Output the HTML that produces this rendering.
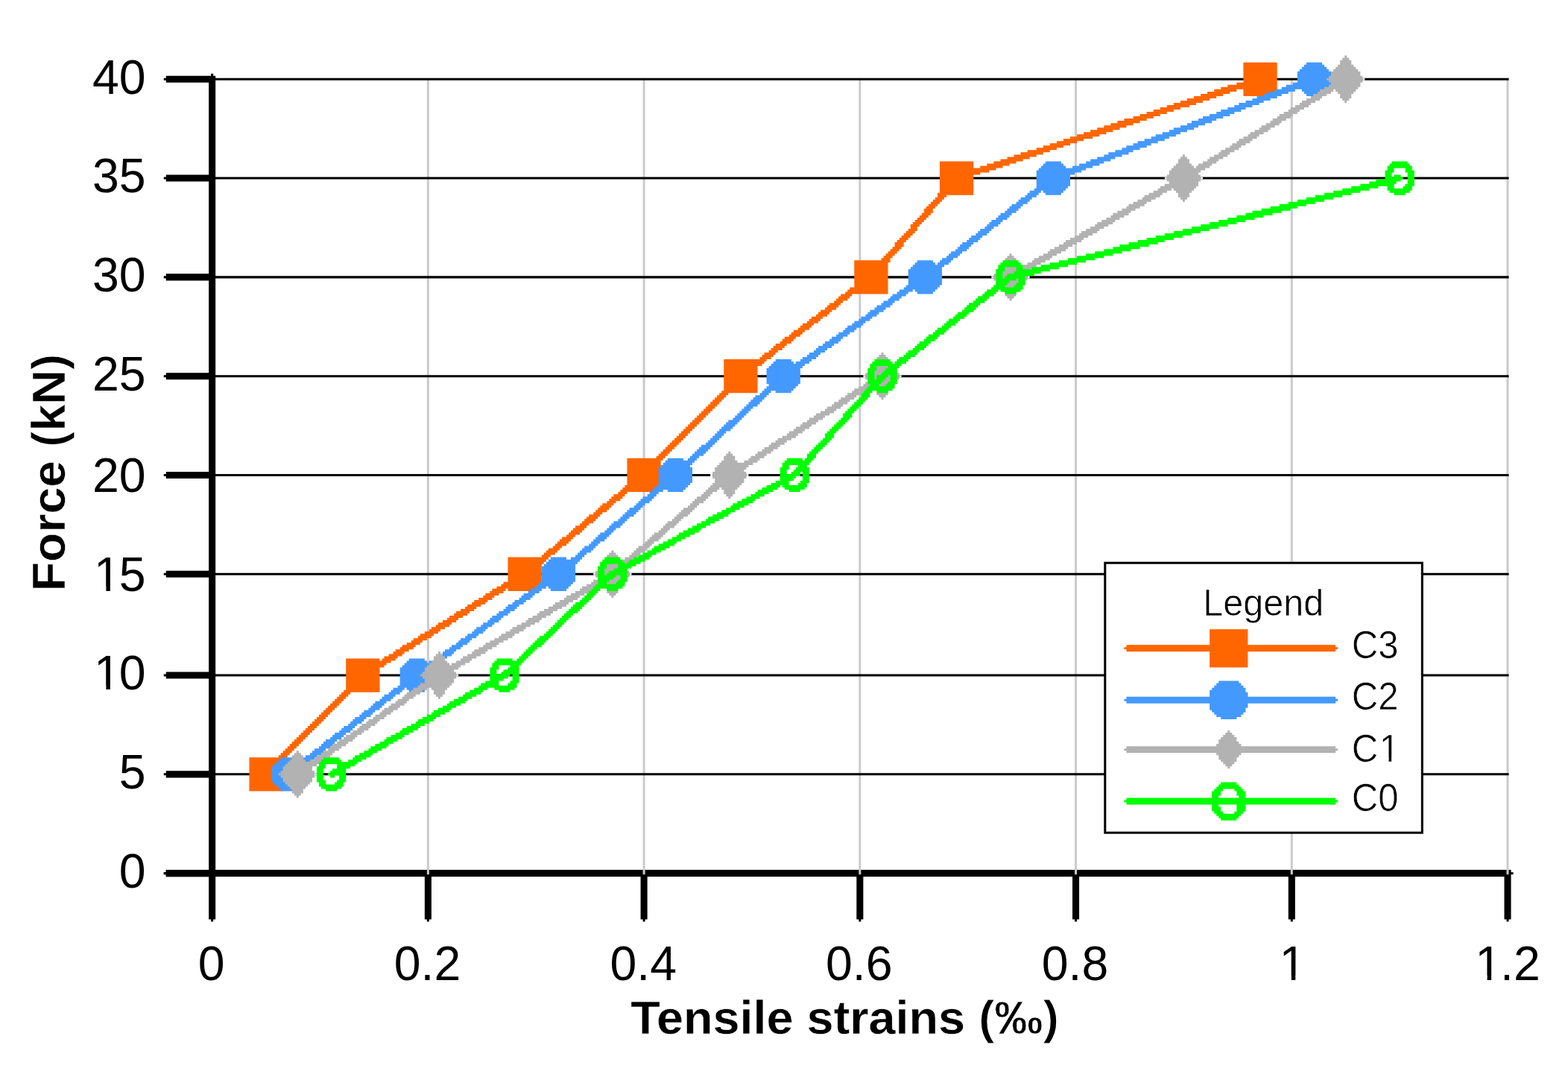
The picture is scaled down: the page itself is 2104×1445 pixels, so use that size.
<!DOCTYPE html>
<html lang="en"><head><meta charset="utf-8"><title>Force vs tensile strains</title>
<style>
html,body{margin:0;padding:0;background:#fff}
body{width:2104px;height:1445px;overflow:hidden}
svg{display:block}
text{font-family:"Liberation Sans",Arial,Helvetica,sans-serif;fill:#000}
</style></head><body>
<svg role="img" aria-label="Force (kN) versus tensile strains for beams C0 to C3" width="2104" height="1445" viewBox="0 0 2104 1445">
<rect width="2104" height="1445" fill="#fff"/>
<g transform="matrix(3.018 0 0 3.018 -0.55 -0.85)">
<g id="axes-and-grid">
<path class="x-axis" fill="#000" d="M74 387h598v1h-598zm-1 1h600v1h-600zm1 1h598v1h-598zm115 1h3v19h-3zm96 0h3v19h-3zm96 0h3v19h-3zm96 0h3v19h-3zm96 0h3v19h-3zm96 0h3v19h-3zm-479 19h1v1h-1zm96 0h1v1h-1zm96 0h1v1h-1zm96 0h1v1h-1zm96 0h1v1h-1zm96 0h1v1h-1z"/>
<path class="grid-vertical" fill="#cbcbcb" d="M190 35h1v354h-1zm96 0h1v354h-1zm96 0h1v354h-1zm96 0h1v354h-1zm96 0h1v354h-1zm96 0h1v354h-1z"/>
<path class="y-axis grid-horizontal" fill="#000" d="M94 33h1v1h-1zm-20 1h22v1h-22zm-1 1h598v1h-598zm1 1h22v1h-22zm19 1h3v41h-3zm-19 41h22v1h-22zm-1 1h598v1h-598zm1 1h22v1h-22zm19 1h3v41h-3zm-19 41h22v1h-22zm-1 1h598v1h-598zm1 1h22v1h-22zm19 1h3v41h-3zm-19 41h22v1h-22zm-1 1h598v1h-598zm1 1h22v1h-22zm19 1h3v41h-3zm-19 41h22v1h-22zm-1 1h598v1h-598zm1 1h22v1h-22zm19 1h3v41h-3zm-19 41h22v1h-22zm-1 1h598v1h-598zm1 1h22v1h-22zm19 1h3v42h-3zm-19 42h22v1h-22zm-1 1h598v1h-598zm1 1h22v1h-22zm19 1h3v41h-3zm-19 41h22v1h-22zm-1 1h598v1h-598zm1 1h22v1h-22zm19 1h3v41h-3zm-19 41h22v1h-22zm-1 1h23v1h-23zm1 1h22v1h-22zm19 1h3v19h-3zm1 19h1v1h-1z"/>
</g>
<g id="series-c3">
<path fill="#ff6600" d="M553 28h15v9h-15zm-3 9h18v1h-18zm-4 1h22v1h-22zm-3 1h25v1h-25zm-3 1h10v1h-10zm13 0h15v3h-15zm-16 1h10v1h-10zm-3 1h10v1h-10zm-3 1h10v1h-10zm-3 1h10v1h-10zm-3 1h10v1h-10zm-3 1h10v1h-10zm-3 1h10v1h-10zm-3 1h9v1h-9zm-3 1h9v1h-9zm-3 1h9v1h-9zm-3 1h9v1h-9zm-3 1h9v1h-9zm-4 1h10v1h-10zm-3 1h10v1h-10zm-3 1h10v1h-10zm-3 1h10v1h-10zm-3 1h10v1h-10zm-3 1h10v1h-10zm-3 1h10v1h-10zm-3 1h10v1h-10zm-3 1h10v1h-10zm-3 1h9v1h-9zm-3 1h9v1h-9zm-3 1h9v1h-9zm-3 1h9v1h-9zm-3 1h9v1h-9zm-4 1h10v1h-10zm-3 1h10v1h-10zm-3 1h10v1h-10zm-3 1h10v1h-10zm-3 1h10v1h-10zm-27 1h15v3h-15zm24 0h10v1h-10zm-3 1h10v1h-10zm-3 1h10v1h-10zm-18 1h25v1h-25zm0 1h22v1h-22zm0 1h18v1h-18zm0 1h15v8h-15zm-1 8h16v1h-16zm0 1h4v1h-4zm-1 1h4v1h-4zm-1 1h4v1h-4zm-1 1h4v1h-4zm-1 1h4v1h-4zm-1 1h4v1h-4zm-1 1h4v2h-4zm-1 2h4v1h-4zm-1 1h4v1h-4zm-1 1h4v1h-4zm-1 1h4v1h-4zm-1 1h4v1h-4zm-1 1h4v1h-4zm0 1h3v1h-3zm-1 1h4v1h-4zm-1 1h4v1h-4zm-1 1h4v1h-4zm-1 1h4v1h-4zm-1 1h4v1h-4zm-1 1h4v1h-4zm-1 1h4v2h-4zm-1 2h4v1h-4zm-1 1h4v1h-4zm-1 1h4v1h-4zm-1 1h4v1h-4zm-1 1h4v1h-4zm-1 1h4v1h-4zm-12 1h16v1h-16zm0 1h15v11h-15zm-2 11h17v1h-17zm-1 1h18v1h-18zm-1 1h19v1h-19zm-2 1h5v1h-5zm-1 1h5v1h-5zm-1 1h5v1h-5zm-1 1h4v1h-4zm-2 1h5v1h-5zm-1 1h5v1h-5zm-1 1h5v1h-5zm-2 1h5v1h-5zm-1 1h5v1h-5zm-1 1h5v1h-5zm-2 1h5v1h-5zm-1 1h5v1h-5zm-1 1h5v1h-5zm-2 1h5v1h-5zm-1 1h5v1h-5zm-1 1h5v1h-5zm-2 1h5v1h-5zm-1 1h5v1h-5zm-1 1h5v1h-5zm-2 1h5v1h-5zm-1 1h5v1h-5zm-1 1h5v1h-5zm-2 1h5v1h-5zm-1 1h5v1h-5zm-1 1h5v1h-5zm-1 1h4v1h-4zm-2 1h5v1h-5zm-1 1h5v1h-5zm-1 1h5v1h-5zm-16 1h19v1h-19zm0 1h18v1h-18zm0 1h17v1h-17zm0 1h15v11h-15zm-1 11h16v1h-16zm-1 1h4v1h-4zm-1 1h4v1h-4zm-1 1h4v1h-4zm-1 1h4v1h-4zm-1 1h4v1h-4zm-1 1h4v1h-4zm-1 1h4v1h-4zm-1 1h4v1h-4zm-1 1h4v1h-4zm-1 1h4v1h-4zm-1 1h4v1h-4zm-1 1h4v1h-4zm-1 1h4v1h-4zm-1 1h4v1h-4zm-1 1h4v1h-4zm-1 1h4v1h-4zm-1 1h4v1h-4zm-1 1h4v1h-4zm-1 1h4v1h-4zm-1 1h4v1h-4zm-1 1h4v1h-4zm-1 1h4v1h-4zm-1 1h4v1h-4zm-1 1h4v1h-4zm-1 1h4v1h-4zm-1 1h4v1h-4zm-1 1h4v1h-4zm-1 1h4v1h-4zm-1 1h4v1h-4zm-13 1h16v1h-16zm0 1h15v11h-15zm-1 11h16v1h-16zm-1 1h17v1h-17zm-1 1h18v1h-18zm-1 1h4v1h-4zm-2 1h5v1h-5zm-1 1h5v1h-5zm-1 1h5v1h-5zm-1 1h4v1h-4zm-2 1h5v1h-5zm-1 1h5v1h-5zm-1 1h5v1h-5zm-1 1h5v1h-5zm-1 1h4v1h-4zm-2 1h5v1h-5zm-1 1h5v1h-5zm-1 1h5v1h-5zm-1 1h5v1h-5zm-1 1h4v1h-4zm-2 1h5v1h-5zm-1 1h5v1h-5zm-1 1h5v1h-5zm-1 1h5v1h-5zm-1 1h4v1h-4zm-2 1h5v1h-5zm-1 1h5v1h-5zm-1 1h5v1h-5zm-1 1h5v1h-5zm-1 1h4v1h-4zm-2 1h5v1h-5zm-1 1h5v1h-5zm-1 1h5v1h-5zm-1 1h4v1h-4zm-15 1h18v1h-18zm0 1h17v1h-17zm0 1h16v1h-16zm0 1h15v8h-15zm-2 8h17v1h-17zm-1 1h18v1h-18zm-2 1h20v1h-20zm-2 1h6v1h-6zm7 0h15v1h-15zm-8 1h6v1h-6zm-2 1h6v1h-6zm-1 1h5v1h-5zm-2 1h6v1h-6zm-2 1h6v1h-6zm-1 1h6v1h-6zm-2 1h6v1h-6zm-1 1h5v1h-5zm-2 1h6v1h-6zm-2 1h6v1h-6zm-1 1h6v1h-6zm-2 1h6v1h-6zm-1 1h5v1h-5zm-2 1h6v1h-6zm-2 1h6v1h-6zm-1 1h6v1h-6zm-2 1h6v1h-6zm-1 1h5v1h-5zm-2 1h6v1h-6zm-2 1h6v1h-6zm-1 1h6v1h-6zm-2 1h6v1h-6zm-1 1h5v1h-5zm-2 1h6v1h-6zm-2 1h6v1h-6zm-1 1h6v1h-6zm-2 1h6v1h-6zm-1 1h5v1h-5zm-2 1h6v1h-6zm-2 1h6v1h-6zm-17 1h15v1h-15zm16 0h6v1h-6zm-16 1h20v1h-20zm0 1h18v1h-18zm0 1h17v1h-17zm0 1h15v10h-15zm-1 10h16v1h-16zm-1 1h4v1h-4zm-1 1h4v1h-4zm-1 1h4v1h-4zm-1 1h4v1h-4zm-1 1h4v1h-4zm-1 1h4v1h-4zm-1 1h4v1h-4zm-1 1h4v1h-4zm-1 1h4v1h-4zm-1 1h4v1h-4zm-1 1h4v1h-4zm-1 1h4v1h-4zm-1 1h4v1h-4zm-1 1h4v1h-4zm-1 1h4v1h-4zm-1 1h4v1h-4zm-1 1h4v1h-4zm-1 1h4v1h-4zm-1 1h4v1h-4zm-1 1h4v1h-4zm-1 1h4v1h-4zm-1 1h4v1h-4zm-1 1h4v1h-4zm-1 1h4v1h-4zm-1 1h4v1h-4zm-1 1h4v1h-4zm-1 1h4v1h-4zm-1 1h4v1h-4zm-1 1h4v1h-4zm-13 1h16v1h-16zm0 1h15v14h-15z"/>
</g>
<g id="series-c2">
<path fill="#4499ff" d="M581 28h7v1h-7zm-1 1h9v1h-9zm-1 1h11v1h-11zm-1 1h13v1h-13zm-1 1h15v5h-15zm-2 5h17v1h-17zm-3 1h20v1h-20zm-2 1h21v1h-21zm-3 1h9v1h-9zm12 0h11v1h-11zm-15 1h9v1h-9zm16 0h9v1h-9zm-18 1h8v1h-8zm19 0h7v1h-7zm-22 1h9v1h-9zm-2 1h8v1h-8zm-3 1h8v1h-8zm-3 1h9v1h-9zm-2 1h8v1h-8zm-3 1h8v1h-8zm-3 1h9v1h-9zm-2 1h8v1h-8zm-3 1h9v1h-9zm-3 1h9v1h-9zm-2 1h8v1h-8zm-3 1h9v1h-9zm-2 1h8v1h-8zm-3 1h8v1h-8zm-3 1h9v1h-9zm-2 1h8v1h-8zm-3 1h8v1h-8zm-3 1h9v1h-9zm-2 1h8v1h-8zm-3 1h9v1h-9zm-3 1h9v1h-9zm-2 1h8v1h-8zm-3 1h9v1h-9zm-2 1h8v1h-8zm-3 1h8v1h-8zm-3 1h9v1h-9zm-2 1h8v1h-8zm-3 1h8v1h-8zm-3 1h9v1h-9zm-20 1h7v1h-7zm18 0h8v1h-8zm-19 1h9v1h-9zm16 0h9v1h-9zm-17 1h11v1h-11zm14 0h9v1h-9zm-15 1h21v1h-21zm-1 1h20v1h-20zm0 1h17v1h-17zm0 1h15v5h-15zm0 5h14v1h-14zm-1 1h14v1h-14zm-2 1h5v1h-5zm6 0h9v1h-9zm-7 1h5v1h-5zm8 0h7v1h-7zm-9 1h5v1h-5zm-2 1h5v1h-5zm-1 1h5v1h-5zm-1 1h5v1h-5zm-2 1h5v1h-5zm-1 1h5v1h-5zm-1 1h5v1h-5zm-1 1h5v1h-5zm-2 1h5v1h-5zm-1 1h5v1h-5zm-1 1h5v1h-5zm-2 1h5v1h-5zm-1 1h5v1h-5zm-1 1h5v1h-5zm-1 1h4v1h-4zm-2 1h5v1h-5zm-1 1h5v1h-5zm-1 1h5v1h-5zm-2 1h5v1h-5zm-1 1h5v1h-5zm-1 1h5v1h-5zm-2 1h5v1h-5zm-1 1h5v1h-5zm-1 1h5v1h-5zm-1 1h5v1h-5zm-2 1h5v1h-5zm-1 1h5v1h-5zm-1 1h5v1h-5zm-2 1h5v1h-5zm-11 1h7v1h-7zm10 0h5v1h-5zm-11 1h9v1h-9zm10 0h5v1h-5zm-11 1h14v1h-14zm-1 1h14v1h-14zm-1 1h15v7h-15zm-1 7h15v1h-15zm-1 1h15v1h-15zm-2 1h6v1h-6zm7 0h9v1h-9zm-8 1h5v1h-5zm9 0h7v1h-7zm-11 1h6v1h-6zm-1 1h5v1h-5zm-1 1h5v1h-5zm-2 1h5v1h-5zm-1 1h5v1h-5zm-2 1h6v1h-6zm-1 1h5v1h-5zm-2 1h6v1h-6zm-1 1h5v1h-5zm-1 1h5v1h-5zm-2 1h5v1h-5zm-1 1h5v1h-5zm-2 1h5v1h-5zm-1 1h5v1h-5zm-2 1h6v1h-6zm-1 1h5v1h-5zm-1 1h5v1h-5zm-2 1h5v1h-5zm-1 1h5v1h-5zm-2 1h5v1h-5zm-1 1h5v1h-5zm-2 1h6v1h-6zm-1 1h5v1h-5zm-2 1h6v1h-6zm-1 1h5v1h-5zm-1 1h5v1h-5zm-2 1h5v1h-5zm-1 1h5v1h-5zm-2 1h6v1h-6zm-12 1h7v1h-7zm11 0h5v1h-5zm-12 1h9v1h-9zm10 0h6v1h-6zm-11 1h15v1h-15zm-1 1h15v1h-15zm-1 1h15v7h-15zm1 7h13v1h-13zm-1 1h13v1h-13zm-1 1h13v1h-13zm-1 1h4v1h-4zm6 0h7v1h-7zm-7 1h4v1h-4zm-2 1h5v1h-5zm-1 1h5v1h-5zm-1 1h5v1h-5zm-1 1h5v1h-5zm-1 1h5v1h-5zm-1 1h4v1h-4zm-1 1h4v1h-4zm-1 1h4v1h-4zm-1 1h4v1h-4zm-1 1h4v1h-4zm-1 1h4v1h-4zm-2 1h5v1h-5zm-1 1h5v1h-5zm-1 1h5v1h-5zm-1 1h5v1h-5zm-1 1h5v1h-5zm-1 1h4v1h-4zm-1 1h4v1h-4zm-1 1h4v1h-4zm-1 1h4v1h-4zm-1 1h4v1h-4zm-1 1h4v1h-4zm-2 1h5v1h-5zm-1 1h5v1h-5zm-1 1h5v1h-5zm-1 1h5v1h-5zm-1 1h5v1h-5zm-1 1h4v1h-4zm-10 1h7v1h-7zm9 0h4v1h-4zm-10 1h13v1h-13zm-1 1h13v1h-13zm-1 1h13v1h-13zm-1 1h15v7h-15zm0 7h14v1h-14zm-1 1h14v1h-14zm-1 1h14v1h-14zm-1 1h5v1h-5zm7 0h7v1h-7zm-8 1h4v1h-4zm-1 1h4v1h-4zm-2 1h5v1h-5zm-1 1h5v1h-5zm-1 1h5v1h-5zm-1 1h4v1h-4zm-1 1h4v1h-4zm-2 1h5v1h-5zm-1 1h5v1h-5zm-1 1h5v1h-5zm-1 1h5v1h-5zm-1 1h4v1h-4zm-1 1h4v1h-4zm-2 1h5v1h-5zm-1 1h5v1h-5zm-1 1h5v1h-5zm-1 1h4v1h-4zm-1 1h4v1h-4zm-2 1h5v1h-5zm-1 1h5v1h-5zm-1 1h5v1h-5zm-1 1h5v1h-5zm-1 1h4v1h-4zm-1 1h4v1h-4zm-2 1h5v1h-5zm-1 1h5v1h-5zm-1 1h5v1h-5zm-1 1h4v1h-4zm-1 1h4v1h-4zm-11 1h7v1h-7zm9 0h5v1h-5zm-10 1h14v1h-14zm-1 1h14v1h-14zm-1 1h14v1h-14zm-1 1h15v7h-15zm-1 7h15v1h-15zm-1 1h15v1h-15zm-1 1h5v1h-5zm6 0h9v1h-9zm-8 1h5v1h-5zm9 0h7v1h-7zm-10 1h5v1h-5zm-2 1h5v1h-5zm-1 1h5v1h-5zm-1 1h5v1h-5zm-2 1h5v1h-5zm-1 1h5v1h-5zm-2 1h5v1h-5zm-1 1h5v1h-5zm-1 1h5v1h-5zm-2 1h5v1h-5zm-1 1h5v1h-5zm-2 1h5v1h-5zm-1 1h5v1h-5zm-1 1h5v1h-5zm-2 1h5v1h-5zm-1 1h5v1h-5zm-2 1h5v1h-5zm-1 1h5v1h-5zm-1 1h5v1h-5zm-2 1h5v1h-5zm-1 1h5v1h-5zm-2 1h5v1h-5zm-1 1h5v1h-5zm-1 1h5v1h-5zm-2 1h5v1h-5zm-1 1h5v1h-5zm-2 1h5v1h-5zm-1 1h5v1h-5zm-1 1h5v1h-5zm-2 1h5v1h-5zm-12 1h7v1h-7zm11 0h5v1h-5zm-12 1h9v1h-9zm10 0h5v1h-5zm-11 1h15v1h-15zm-1 1h15v1h-15zm-1 1h15v7h-15zm0 7h14v1h-14zm-1 1h14v1h-14zm-2 1h5v1h-5zm6 0h9v1h-9zm-7 1h5v1h-5zm8 0h7v1h-7zm-9 1h5v1h-5zm-2 1h5v1h-5zm-1 1h5v1h-5zm-1 1h5v1h-5zm-2 1h5v1h-5zm-1 1h5v1h-5zm-1 1h5v1h-5zm-1 1h5v1h-5zm-2 1h5v1h-5zm-1 1h5v1h-5zm-1 1h5v1h-5zm-2 1h5v1h-5zm-1 1h5v1h-5zm-1 1h5v1h-5zm-1 1h4v1h-4zm-2 1h5v1h-5zm-1 1h5v1h-5zm-1 1h5v1h-5zm-2 1h5v1h-5zm-1 1h5v1h-5zm-1 1h5v1h-5zm-2 1h5v1h-5zm-1 1h5v1h-5zm-1 1h5v1h-5zm-1 1h5v1h-5zm-2 1h5v1h-5zm-1 1h5v1h-5zm-1 1h5v1h-5zm-2 1h5v1h-5zm-11 1h7v1h-7zm10 0h5v1h-5zm-11 1h9v1h-9zm10 0h5v1h-5zm-11 1h14v1h-14zm-1 1h14v1h-14zm-1 1h15v7h-15zm1 7h13v1h-13zm1 1h11v1h-11zm1 1h9v1h-9zm1 1h7v1h-7z"/>
</g>
<g id="series-c1">
<path fill="#b2b2b2" d="M598 25h1v1h-1zm-1 1h3v1h-3zm-1 1h5v2h-5zm-1 2h7v1h-7zm-1 1h9v1h-9zm-1 1h11v1h-11zm-1 1h13v2h-13zm-1 2h15v3h-15zm1 3h13v1h-13zm-1 1h14v1h-14zm-2 1h15v1h-15zm-2 1h6v1h-6zm7 0h9v1h-9zm-8 1h6v1h-6zm9 0h7v1h-7zm-11 1h6v1h-6zm12 0h5v2h-5zm-13 1h5v1h-5zm-2 1h6v1h-6zm16 0h3v1h-3zm-18 1h6v1h-6zm19 0h1v1h-1zm-20 1h5v1h-5zm-2 1h6v1h-6zm-2 1h6v1h-6zm-1 1h5v1h-5zm-2 1h6v1h-6zm-2 1h6v1h-6zm-1 1h6v1h-6zm-2 1h6v1h-6zm-1 1h5v1h-5zm-2 1h6v1h-6zm-2 1h6v1h-6zm-1 1h5v1h-5zm-2 1h6v1h-6zm-2 1h6v1h-6zm-1 1h5v1h-5zm-2 1h6v1h-6zm-2 1h6v1h-6zm-1 1h6v1h-6zm-2 1h6v1h-6zm-1 1h5v1h-5zm-2 1h6v1h-6zm-2 1h6v1h-6zm-1 1h5v1h-5zm-16 1h1v1h-1zm14 0h6v1h-6zm-15 1h3v1h-3zm13 0h6v1h-6zm-14 1h5v2h-5zm13 0h5v1h-5zm-2 1h6v1h-6zm-12 1h7v1h-7zm10 0h6v1h-6zm-11 1h9v1h-9zm10 0h6v1h-6zm-11 1h15v1h-15zm-1 1h14v1h-14zm0 1h13v1h-13zm-1 1h15v3h-15zm1 3h13v1h-13zm-2 1h15v1h-15zm-2 1h16v1h-16zm-1 1h6v1h-6zm7 0h9v1h-9zm-9 1h6v1h-6zm10 0h7v1h-7zm-12 1h6v1h-6zm13 0h5v2h-5zm-15 1h7v1h-7zm-1 1h6v1h-6zm17 0h3v1h-3zm-19 1h6v1h-6zm20 0h1v1h-1zm-22 1h6v1h-6zm-2 1h7v1h-7zm-1 1h6v1h-6zm-2 1h6v1h-6zm-2 1h6v1h-6zm-2 1h7v1h-7zm-1 1h6v1h-6zm-2 1h6v1h-6zm-2 1h6v1h-6zm-2 1h7v1h-7zm-1 1h6v1h-6zm-2 1h6v1h-6zm-2 1h6v1h-6zm-2 1h7v1h-7zm-1 1h6v1h-6zm-2 1h6v1h-6zm-2 1h6v1h-6zm-2 1h7v1h-7zm-1 1h6v1h-6zm-2 1h6v1h-6zm-2 1h6v1h-6zm-2 1h7v1h-7zm-1 1h6v1h-6zm-17 1h1v1h-1zm15 0h6v1h-6zm-16 1h3v1h-3zm14 0h6v1h-6zm-15 1h5v2h-5zm13 0h7v1h-7zm-1 1h6v1h-6zm-13 1h7v1h-7zm11 0h6v1h-6zm-12 1h9v1h-9zm10 0h6v1h-6zm-11 1h16v1h-16zm-1 1h15v1h-15zm0 1h13v1h-13zm-1 1h15v3h-15zm1 3h13v2h-13zm-1 2h13v1h-13zm-1 1h13v1h-13zm-2 1h5v1h-5zm7 0h7v1h-7zm-8 1h5v1h-5zm9 0h5v2h-5zm-10 1h5v1h-5zm-2 1h5v1h-5zm13 0h3v1h-3zm-14 1h5v1h-5zm15 0h1v1h-1zm-16 1h5v1h-5zm-2 1h5v1h-5zm-1 1h5v1h-5zm-1 1h5v1h-5zm-1 1h5v1h-5zm-2 1h5v1h-5zm-1 1h5v1h-5zm-1 1h5v1h-5zm-2 1h5v1h-5zm-1 1h5v1h-5zm-1 1h5v1h-5zm-1 1h4v1h-4zm-2 1h5v1h-5zm-1 1h5v1h-5zm-1 1h5v1h-5zm-2 1h5v1h-5zm-1 1h5v1h-5zm-1 1h5v1h-5zm-2 1h5v1h-5zm-1 1h5v1h-5zm-1 1h5v1h-5zm-1 1h5v1h-5zm-2 1h5v1h-5zm-12 1h1v1h-1zm11 0h5v1h-5zm-12 1h3v1h-3zm11 0h5v1h-5zm-12 1h5v2h-5zm10 0h5v1h-5zm-1 1h5v1h-5zm-10 1h7v1h-7zm9 0h5v1h-5zm-10 1h13v1h-13zm-1 1h13v1h-13zm-1 1h13v2h-13zm-1 2h15v3h-15zm1 3h13v1h-13zm-1 1h14v1h-14zm-1 1h14v1h-14zm-2 1h15v1h-15zm-2 1h6v1h-6zm9 0h7v1h-7zm-10 1h5v1h-5zm11 0h5v2h-5zm-13 1h6v1h-6zm-1 1h5v1h-5zm15 0h3v1h-3zm-17 1h6v1h-6zm18 0h1v1h-1zm-19 1h5v1h-5zm-2 1h6v1h-6zm-1 1h5v1h-5zm-2 1h6v1h-6zm-1 1h5v1h-5zm-2 1h6v1h-6zm-2 1h6v1h-6zm-1 1h5v1h-5zm-2 1h6v1h-6zm-1 1h5v1h-5zm-2 1h6v1h-6zm-1 1h5v1h-5zm-2 1h6v1h-6zm-1 1h5v1h-5zm-2 1h6v1h-6zm-1 1h5v1h-5zm-2 1h6v1h-6zm-2 1h6v1h-6zm-1 1h5v1h-5zm-2 1h6v1h-6zm-1 1h5v1h-5zm-2 1h6v1h-6zm-1 1h5v1h-5zm-15 1h1v1h-1zm13 0h6v1h-6zm-14 1h3v1h-3zm13 0h5v1h-5zm-14 1h5v2h-5zm12 0h6v1h-6zm-1 1h5v1h-5zm-12 1h7v1h-7zm10 0h6v1h-6zm-11 1h15v1h-15zm-1 1h14v1h-14zm-1 1h14v1h-14zm0 1h13v1h-13zm-1 1h15v3h-15zm1 3h13v2h-13zm-1 2h13v1h-13zm-1 1h13v1h-13zm-1 1h5v1h-5zm6 0h7v1h-7zm-7 1h5v1h-5zm8 0h5v2h-5zm-9 1h4v1h-4zm-1 1h4v1h-4zm11 0h3v1h-3zm-13 1h5v1h-5zm14 0h1v1h-1zm-15 1h5v1h-5zm-1 1h5v1h-5zm-1 1h4v1h-4zm-1 1h4v1h-4zm-2 1h5v1h-5zm-1 1h5v1h-5zm-1 1h5v1h-5zm-1 1h5v1h-5zm-1 1h4v1h-4zm-1 1h4v1h-4zm-2 1h5v1h-5zm-1 1h5v1h-5zm-1 1h5v1h-5zm-1 1h4v1h-4zm-1 1h4v1h-4zm-2 1h5v1h-5zm-1 1h5v1h-5zm-1 1h5v1h-5zm-1 1h5v1h-5zm-1 1h4v1h-4zm-1 1h4v1h-4zm-2 1h5v1h-5zm-1 1h5v1h-5zm-11 1h1v1h-1zm10 0h5v1h-5zm-11 1h3v1h-3zm10 0h4v1h-4zm-11 1h5v2h-5zm10 0h4v1h-4zm-2 1h5v1h-5zm-9 1h7v1h-7zm8 0h5v1h-5zm-9 1h13v1h-13zm-1 1h13v1h-13zm-1 1h13v2h-13zm-1 2h15v3h-15zm1 3h13v1h-13zm-2 1h15v1h-15zm-1 1h15v1h-15zm-2 1h6v1h-6zm7 0h9v1h-9zm-9 1h6v1h-6zm10 0h7v1h-7zm-11 1h5v1h-5zm12 0h5v2h-5zm-14 1h6v1h-6zm-2 1h6v1h-6zm17 0h3v1h-3zm-19 1h6v1h-6zm20 0h1v1h-1zm-21 1h6v1h-6zm-2 1h6v1h-6zm-2 1h6v1h-6zm-1 1h6v1h-6zm-2 1h6v1h-6zm-2 1h6v1h-6zm-2 1h6v1h-6zm-1 1h6v1h-6zm-2 1h6v1h-6zm-2 1h6v1h-6zm-1 1h6v1h-6zm-2 1h6v1h-6zm-2 1h6v1h-6zm-2 1h6v1h-6zm-1 1h6v1h-6zm-2 1h6v1h-6zm-2 1h6v1h-6zm-1 1h6v1h-6zm-2 1h6v1h-6zm-2 1h6v1h-6zm-2 1h6v1h-6zm-1 1h6v1h-6zm-2 1h6v1h-6zm-2 1h6v1h-6zm-16 1h1v1h-1zm15 0h6v1h-6zm-16 1h3v1h-3zm14 0h6v1h-6zm-15 1h5v2h-5zm13 0h6v1h-6zm-1 1h5v1h-5zm-13 1h7v1h-7zm11 0h6v1h-6zm-12 1h9v1h-9zm10 0h6v1h-6zm-11 1h15v1h-15zm-1 1h15v1h-15zm0 1h13v1h-13zm-1 1h15v3h-15zm1 3h13v2h-13zm-2 2h14v1h-14zm-1 1h14v1h-14zm-2 1h6v1h-6zm8 0h7v1h-7zm-9 1h5v1h-5zm10 0h5v2h-5zm-12 1h6v1h-6zm-1 1h5v1h-5zm14 0h3v1h-3zm-15 1h5v1h-5zm16 0h1v1h-1zm-18 1h5v1h-5zm-1 1h5v1h-5zm-2 1h6v1h-6zm-1 1h5v1h-5zm-2 1h6v1h-6zm-1 1h5v1h-5zm-1 1h5v1h-5zm-2 1h5v1h-5zm-1 1h5v1h-5zm-2 1h5v1h-5zm-1 1h5v1h-5zm-2 1h6v1h-6zm-1 1h5v1h-5zm-1 1h5v1h-5zm-2 1h5v1h-5zm-1 1h5v1h-5zm-2 1h5v1h-5zm-1 1h5v1h-5zm-2 1h6v1h-6zm-1 1h5v1h-5zm-2 1h6v1h-6zm-1 1h5v1h-5zm-1 1h5v1h-5zm-14 1h1v1h-1zm12 0h5v1h-5zm-13 1h3v1h-3zm12 0h5v1h-5zm-13 1h5v2h-5zm11 0h6v1h-6zm-1 1h5v1h-5zm-11 1h7v1h-7zm9 0h6v1h-6zm-10 1h14v1h-14zm-1 1h14v1h-14zm-1 1h13v2h-13zm-1 2h15v3h-15zm1 3h13v2h-13zm1 2h11v1h-11zm1 1h9v1h-9zm1 1h7v1h-7zm1 1h5v2h-5zm1 2h3v1h-3zm1 1h1v1h-1z"/>
<path fill="#ececec" d="M606 35h1v1h-1zm-88 44h1v1h-1zm16 0h1v1h-1zm-93 44h1v1h-1zm16 0h1v1h-1zm-73 44h1v1h-1zm16 0h1v1h-1zm-84 44h1v1h-1zm16 0h1v1h-1zm-68 44h1v1h-1zm16 0h1v1h-1zm-77 45h1v1h-1zm-63 44h1v1h-1z"/>
<path fill="#b2b2b2" d="M590 35h1v1h-1zm-403 265h1v1h-1zm-63 44h1v1h-1z"/>
</g>
<g id="series-c0">
<path fill="#00ff00" d="M619 72h7v1h-7zm-1 1h9v1h-9zm-1 1h11v1h-11zm0 1h3v1h-3zm8 0h3v1h-3zm-9 1h4v1h-4zm9 0h4v1h-4zm-9 1h3v2h-3zm10 0h3v5h-3zm-6 1h3v1h-3zm-4 1h8v1h-8zm-4 1h11v1h-11zm-3 1h12v1h-12zm-4 1h15v1h-15zm20 0h4v1h-4zm-24 1h12v1h-12zm16 0h3v1h-3zm7 0h4v1h-4zm-27 1h12v1h-12zm20 0h11v1h-11zm-24 1h12v1h-12zm25 0h9v1h-9zm-29 1h12v1h-12zm31 0h5v1h-5zm-35 1h12v1h-12zm-4 1h12v1h-12zm-4 1h12v1h-12zm-4 1h12v1h-12zm-4 1h12v1h-12zm-4 1h12v1h-12zm-4 1h13v1h-13zm-4 1h13v1h-13zm-3 1h12v1h-12zm-4 1h12v1h-12zm-4 1h12v1h-12zm-4 1h12v1h-12zm-4 1h12v1h-12zm-4 1h12v1h-12zm-4 1h12v1h-12zm-4 1h12v1h-12zm-4 1h12v1h-12zm-4 1h12v1h-12zm-4 1h12v1h-12zm-4 1h12v1h-12zm-4 1h12v1h-12zm-4 1h13v1h-13zm-4 1h13v1h-13zm-3 1h12v1h-12zm-4 1h12v1h-12zm-4 1h12v1h-12zm-4 1h12v1h-12zm-4 1h12v1h-12zm-4 1h12v1h-12zm-29 1h7v1h-7zm25 0h12v1h-12zm-26 1h9v1h-9zm22 0h12v1h-12zm-23 1h11v1h-11zm19 0h12v1h-12zm-19 1h3v1h-3zm8 0h3v1h-3zm7 0h12v1h-12zm-16 1h4v1h-4zm9 0h15v1h-15zm-9 1h3v3h-3zm8 0h12v1h-12zm-3 1h12v1h-12zm-1 1h9v1h-9zm-4 1h9v1h-9zm10 0h3v2h-3zm-10 1h6v1h-6zm0 1h5v1h-5zm9 0h4v1h-4zm-10 1h5v1h-5zm9 0h4v1h-4zm-10 1h14v1h-14zm-2 1h5v1h-5zm6 0h9v1h-9zm-7 1h5v1h-5zm9 0h5v1h-5zm-10 1h5v1h-5zm-2 1h5v1h-5zm-1 1h5v1h-5zm-1 1h5v1h-5zm-2 1h5v1h-5zm-1 1h5v1h-5zm-1 1h5v1h-5zm-1 1h5v1h-5zm-2 1h5v1h-5zm-1 1h5v1h-5zm-1 1h5v1h-5zm-2 1h5v1h-5zm-1 1h5v1h-5zm-1 1h5v1h-5zm-1 1h4v1h-4zm-2 1h5v1h-5zm-1 1h5v1h-5zm-1 1h5v1h-5zm-2 1h5v1h-5zm-1 1h5v1h-5zm-1 1h5v1h-5zm-2 1h5v1h-5zm-1 1h5v1h-5zm-1 1h5v1h-5zm-1 1h5v1h-5zm-2 1h5v1h-5zm-1 1h5v1h-5zm-1 1h5v1h-5zm-2 1h5v1h-5zm-11 1h7v1h-7zm10 0h5v1h-5zm-11 1h9v1h-9zm10 0h5v1h-5zm-11 1h14v1h-14zm0 1h3v1h-3zm8 0h5v1h-5zm-9 1h4v1h-4zm8 0h5v1h-5zm-8 1h3v4h-3zm7 0h6v1h-6zm-1 1h7v1h-7zm-2 1h5v1h-5zm6 0h3v3h-3zm-6 1h4v1h-4zm-4 1h7v1h-7zm0 1h6v1h-6zm9 0h4v1h-4zm-8 1h4v1h-4zm7 0h4v1h-4zm-8 1h12v1h-12zm-1 1h12v1h-12zm-1 1h4v1h-4zm6 0h5v1h-5zm-7 1h4v2h-4zm-1 2h4v1h-4zm-1 1h4v1h-4zm-1 1h4v1h-4zm-1 1h4v1h-4zm-1 1h4v1h-4zm-1 1h4v1h-4zm-1 1h4v1h-4zm-1 1h4v2h-4zm-1 2h4v1h-4zm-1 1h4v1h-4zm-1 1h4v1h-4zm-1 1h4v1h-4zm-1 1h4v1h-4zm-1 1h4v1h-4zm-1 1h4v1h-4zm-1 1h4v2h-4zm-1 2h4v1h-4zm-1 1h4v1h-4zm-1 1h4v1h-4zm-1 1h4v1h-4zm-1 1h4v1h-4zm-1 1h4v1h-4zm-1 1h4v1h-4zm-1 1h4v2h-4zm-9 2h7v1h-7zm8 0h4v1h-4zm-9 1h12v1h-12zm-1 1h12v1h-12zm0 1h3v1h-3zm7 0h4v1h-4zm-8 1h4v1h-4zm7 0h6v1h-6zm-7 1h3v2h-3zm6 0h7v1h-7zm-1 1h4v1h-4zm5 0h3v4h-3zm-10 1h9v1h-9zm0 1h7v1h-7zm0 1h6v1h-6zm-2 1h6v1h-6zm11 0h4v1h-4zm-13 1h8v1h-8zm12 0h4v1h-4zm-14 1h6v1h-6zm7 0h11v1h-11zm-9 1h7v1h-7zm10 0h9v1h-9zm-12 1h7v1h-7zm14 0h5v1h-5zm-15 1h6v1h-6zm-2 1h6v1h-6zm-2 1h6v1h-6zm-2 1h6v1h-6zm-2 1h7v1h-7zm-2 1h7v1h-7zm-1 1h6v1h-6zm-2 1h6v1h-6zm-2 1h6v1h-6zm-2 1h6v1h-6zm-2 1h7v1h-7zm-2 1h7v1h-7zm-1 1h6v1h-6zm-2 1h6v1h-6zm-2 1h6v1h-6zm-2 1h6v1h-6zm-2 1h6v1h-6zm-2 1h7v1h-7zm-2 1h7v1h-7zm-1 1h6v1h-6zm-2 1h6v1h-6zm-2 1h6v1h-6zm-2 1h6v1h-6zm-2 1h7v1h-7zm-2 1h7v1h-7zm-1 1h6v1h-6zm-2 1h6v1h-6zm-2 1h6v1h-6zm-2 1h6v1h-6zm-15 1h7v1h-7zm13 0h7v1h-7zm-14 1h9v1h-9zm12 0h7v1h-7zm-13 1h11v1h-11zm12 0h6v1h-6zm-12 1h3v1h-3zm8 0h8v1h-8zm-9 1h4v1h-4zm9 0h6v1h-6zm-9 1h3v3h-3zm7 0h6v1h-6zm-2 1h8v1h-8zm-1 1h9v1h-9zm-4 1h8v1h-8zm10 0h3v2h-3zm-10 1h7v1h-7zm0 1h5v1h-5zm9 0h4v1h-4zm-9 1h4v1h-4zm8 0h4v1h-4zm-9 1h13v1h-13zm-1 1h13v1h-13zm-1 1h4v1h-4zm7 0h5v1h-5zm-8 1h4v1h-4zm-1 1h4v1h-4zm-1 1h4v1h-4zm-1 1h4v1h-4zm-1 1h4v1h-4zm-2 1h5v1h-5zm-1 1h5v1h-5zm-1 1h5v1h-5zm-1 1h5v1h-5zm-1 1h5v1h-5zm-1 1h4v1h-4zm-1 1h4v1h-4zm-1 1h4v1h-4zm-1 1h4v1h-4zm-1 1h4v1h-4zm-1 1h4v1h-4zm-1 1h4v1h-4zm-1 1h4v1h-4zm-1 1h4v1h-4zm-1 1h4v1h-4zm-2 1h5v1h-5zm-1 1h5v1h-5zm-1 1h5v1h-5zm-1 1h5v1h-5zm-1 1h5v1h-5zm-1 1h4v1h-4zm-1 1h4v1h-4zm-1 1h4v1h-4zm-1 1h4v1h-4zm-1 1h4v1h-4zm-10 1h7v1h-7zm9 0h4v1h-4zm-10 1h13v1h-13zm-1 1h13v1h-13zm0 1h3v1h-3zm8 0h4v1h-4zm-9 1h4v1h-4zm8 0h5v1h-5zm-8 1h3v2h-3zm6 0h7v1h-7zm-1 1h8v1h-8zm-5 1h9v1h-9zm10 0h3v3h-3zm-10 1h8v1h-8zm0 1h6v1h-6zm-2 1h6v1h-6zm11 0h4v1h-4zm-13 1h8v1h-8zm12 0h4v1h-4zm-13 1h17v1h-17zm-2 1h6v1h-6zm9 0h9v1h-9zm-11 1h6v1h-6zm13 0h5v1h-5zm-15 1h7v1h-7zm-1 1h6v1h-6zm-2 1h6v1h-6zm-2 1h6v1h-6zm-2 1h7v1h-7zm-1 1h6v1h-6zm-2 1h6v1h-6zm-2 1h6v1h-6zm-2 1h7v1h-7zm-1 1h6v1h-6zm-2 1h6v1h-6zm-2 1h6v1h-6zm-2 1h7v1h-7zm-1 1h6v1h-6zm-2 1h6v1h-6zm-2 1h6v1h-6zm-2 1h7v1h-7zm-1 1h6v1h-6zm-2 1h6v1h-6zm-2 1h6v1h-6zm-2 1h7v1h-7zm-1 1h6v1h-6zm-2 1h6v1h-6zm-2 1h6v1h-6zm-2 1h7v1h-7zm-1 1h6v1h-6zm-2 1h6v1h-6zm-2 1h6v1h-6zm-2 1h7v1h-7zm-14 1h7v1h-7zm13 0h6v1h-6zm-14 1h9v1h-9zm12 0h6v1h-6zm-13 1h17v1h-17zm0 1h3v1h-3zm8 0h8v1h-8zm-9 1h4v1h-4zm9 0h6v1h-6zm-9 1h3v5h-3zm7 0h6v1h-6zm-1 1h7v1h-7zm-1 1h8v1h-8zm1 1h2v1h-2zm4 0h3v2h-3zm-10 2h4v1h-4zm9 0h4v1h-4zm-8 1h3v1h-3zm7 0h4v1h-4zm-7 1h11v1h-11zm1 1h9v1h-9zm2 1h5v1h-5z"/>
</g>
<g id="legend">
<path fill="#000" d="M491 250h142v121h-142z"/>
<path fill="#fff" d="M492 251h140v119h-140z"/>
<path class="legend-key-c3" fill="#ff6600" d="M538 280h17v7h-17zm-37 7h93v1h-93zm-1 1h95v1h-95zm1 1h93v1h-93zm37 1h17v7h-17z"/>
<path class="legend-key-c2" fill="#4499ff" d="M542 303h9v1h-9zm-1 1h11v1h-11zm-1 1h13v1h-13zm-1 1h15v1h-15zm-1 1h16v1h-16zm0 1h17v2h-17zm-37 2h93v1h-93zm-1 1h95v1h-95zm1 1h93v1h-93zm37 1h17v2h-17zm0 2h16v1h-16zm1 1h15v1h-15zm1 1h13v1h-13zm1 1h11v1h-11zm2 1h7v1h-7z"/>
<path class="legend-key-c1" fill="#b2b2b2" d="M546 325h1v1h-1zm-1 1h3v1h-3zm-1 1h5v1h-5zm-1 1h7v1h-7zm-1 1h8v1h-8zm0 1h9v1h-9zm-1 1h11v1h-11zm-40 1h93v1h-93zm-1 1h95v1h-95zm1 1h93v1h-93zm40 1h11v1h-11zm1 1h9v1h-9zm0 1h8v1h-8zm1 1h7v1h-7zm1 1h5v1h-5zm1 1h3v1h-3zm1 1h1v1h-1z"/>
<path class="legend-key-c0" fill="#00ff00" d="M543 348h7v1h-7zm-1 1h9v1h-9zm-1 1h11v1h-11zm-1 1h4v1h-4zm9 0h4v1h-4zm-10 1h4v2h-4zm11 0h4v2h-4zm-11 2h3v1h-3zm12 0h3v1h-3zm-50 1h93v1h-93zm-1 1h95v1h-95zm1 1h93v1h-93zm38 1h3v1h-3zm11 0h4v3h-4zm-11 1h4v2h-4zm1 2h4v1h-4zm9 0h4v1h-4zm-8 1h11v1h-11zm1 1h9v1h-9zm1 1h7v1h-7z"/>
</g>
</g>
<g id="labels">
<text transform="translate(195.60 125.56) scale(1.0000 1.0000)" font-size="64.40" text-anchor="end">40</text>
<text transform="translate(195.60 258.35) scale(1.0000 1.0000)" font-size="64.40" text-anchor="end">35</text>
<text transform="translate(195.60 391.14) scale(1.0000 1.0000)" font-size="64.40" text-anchor="end">30</text>
<text transform="translate(195.60 523.93) scale(1.0000 1.0000)" font-size="64.40" text-anchor="end">25</text>
<text transform="translate(195.60 659.74) scale(1.0000 1.0000)" font-size="64.40" text-anchor="end">20</text>
<text transform="translate(195.60 792.53) scale(1.0000 1.0000)" font-size="64.40" text-anchor="start" x="-71.63" dx="2.11 -2.11">15</text>
<g transform="translate(195.60 792.53) scale(1.0000 1.0000)" fill="#fff"><rect x="-65.75" y="-5.61" width="12.52" height="6.61"/><rect x="-47.74" y="-5.61" width="12.02" height="6.61"/></g>
<text transform="translate(195.60 925.33) scale(1.0000 1.0000)" font-size="64.40" text-anchor="start" x="-71.63" dx="2.11 -2.11">10</text>
<g transform="translate(195.60 925.33) scale(1.0000 1.0000)" fill="#fff"><rect x="-65.75" y="-5.61" width="12.52" height="6.61"/><rect x="-47.74" y="-5.61" width="12.02" height="6.61"/></g>
<text transform="translate(195.60 1058.12) scale(1.0000 1.0000)" font-size="64.40" text-anchor="end">5</text>
<text transform="translate(195.60 1190.91) scale(1.0000 1.0000)" font-size="64.40" text-anchor="end">0</text>
<text transform="translate(283.65 1314.65) scale(1.0000 1.0000)" font-size="64.40" text-anchor="middle">0</text>
<text transform="translate(573.45 1314.65) scale(1.0000 1.0000)" font-size="64.40" text-anchor="middle">0.2</text>
<text transform="translate(863.25 1314.65) scale(1.0000 1.0000)" font-size="64.40" text-anchor="middle">0.4</text>
<text transform="translate(1152.70 1314.65) scale(1.0000 1.0000)" font-size="64.40" text-anchor="middle">0.6</text>
<text transform="translate(1442.50 1314.65) scale(1.0000 1.0000)" font-size="64.40" text-anchor="middle">0.8</text>
<text transform="translate(1732.30 1314.65) scale(1.0000 1.0000)" font-size="64.40" text-anchor="start" x="-17.91" dx="2.11">1</text>
<g transform="translate(1732.30 1314.65) scale(1.0000 1.0000)" fill="#fff"><rect x="-12.03" y="-5.61" width="12.52" height="6.61"/><rect x="5.98" y="-5.61" width="12.02" height="6.61"/></g>
<text transform="translate(2022.00 1314.65) scale(1.0000 1.0000)" font-size="64.40" text-anchor="start" x="-44.76" dx="2.11 -2.11 0">1.2</text>
<g transform="translate(2022.00 1314.65) scale(1.0000 1.0000)" fill="#fff"><rect x="-38.88" y="-5.61" width="12.52" height="6.61"/><rect x="-20.87" y="-5.61" width="12.02" height="6.61"/></g>
<text transform="translate(1133.60 1387.20) scale(1.0060 0.9700)" font-size="64.40" text-anchor="middle" font-weight="700" stroke="#fff" stroke-width="0.40">Tensile strains <tspan stroke-width="1.2">(</tspan><tspan stroke-width="0.5">‰</tspan><tspan stroke-width="1.2">)</tspan></text>
<text transform="translate(87.30 634.00) rotate(-90) scale(1.0000 0.9700)" font-size="64.40" text-anchor="middle" font-weight="700" stroke="#fff" stroke-width="0.50">Force <tspan stroke-width="1.2">(</tspan>kN<tspan stroke-width="1.2">)</tspan></text>
<text transform="translate(1695.30 826.00) scale(1.0050 1.0500)" font-size="48.30" text-anchor="middle" stroke="#fff" stroke-width="0.60">Legend</text>
<text transform="translate(1813.80 882.97) scale(1.0150 1.0600)" font-size="48.30" text-anchor="start" stroke="#fff" stroke-width="0.60">C3</text>
<text transform="translate(1813.80 952.39) scale(1.0150 1.0600)" font-size="48.30" text-anchor="start" stroke="#fff" stroke-width="0.60">C2</text>
<text transform="translate(1813.80 1021.80) scale(1.0150 1.0600)" font-size="48.30" text-anchor="start" stroke="#fff" stroke-width="0.60" x="0.00" dx="0 1.58">C1</text>
<g transform="translate(1813.80 1021.80) scale(1.0150 1.0600)" fill="#fff"><rect x="39.29" y="-4.41" width="9.72" height="5.41"/><rect x="52.48" y="-4.41" width="9.34" height="5.41"/></g>
<text transform="translate(1813.80 1088.20) scale(1.0150 1.0600)" font-size="48.30" text-anchor="start" stroke="#fff" stroke-width="0.60">C0</text>
</g>
</svg>
</body></html>
